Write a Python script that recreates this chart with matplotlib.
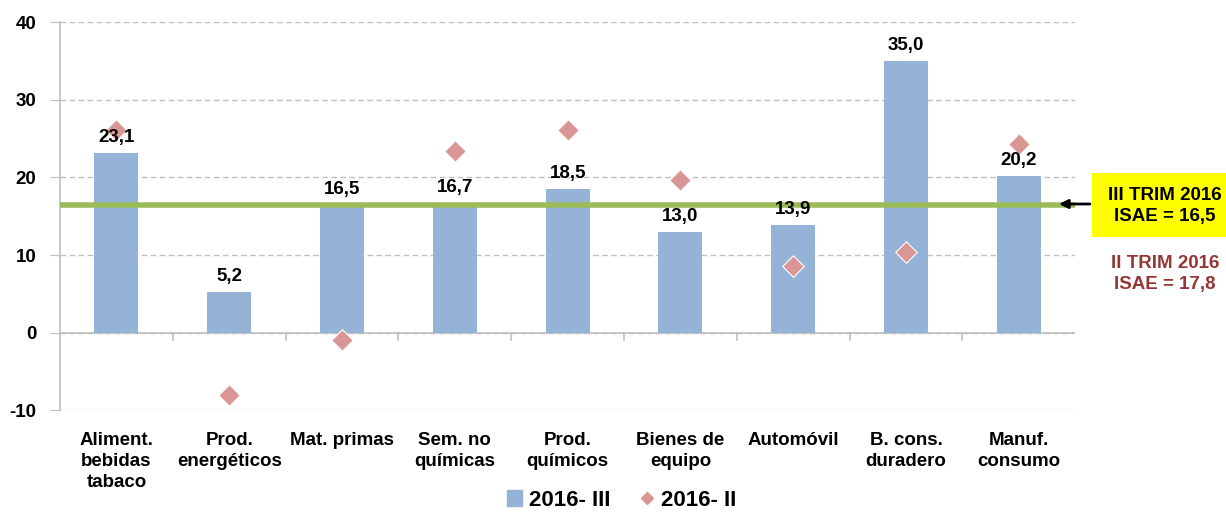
import matplotlib
matplotlib.use("Agg")
import matplotlib.pyplot as plt
import numpy as np
from matplotlib.lines import Line2D
from matplotlib.patches import Patch

categories = ["Aliment.\nbebidas\ntabaco", "Prod.\nenergéticos", "Mat. primas", "Sem. no\nquímicas",
              "Prod.\nquímicos", "Bienes de\nequipo", "Automóvil", "B. cons.\nduradero", "Manuf.\nconsumo"]
q3_2016 = [23.1, 5.2, 16.5, 16.7, 18.5, 13.0, 13.9, 35.0, 20.2]
q2_2016 = [26.1, -8.0, -1.0, 23.4, 26.1, 19.7, 8.6, 10.4, 24.3]
isae_q3 = 16.5
isae_q2 = 17.8
yticks = [-10, 0, 10, 20, 30, 40]

plt.rcParams['font.family'] = ['Liberation Sans', 'DejaVu Sans']

fig = plt.figure(figsize=(12.26, 5.16), dpi=100)
ax = fig.add_axes([0.049, 0.205, 0.828, 0.752])

x = np.arange(len(categories))
ax.bar(x, q3_2016, width=0.39, color="#95B3D7", zorder=2)
ax.scatter(x, q2_2016, marker="D", s=120, color="#D99694", edgecolors="white", linewidths=0.8, zorder=4)
ax.axhline(isae_q3, color="#9BBB59", lw=4, zorder=3)
ax.axhline(0, color="#BFBFBF", lw=1.2, zorder=1)

for xi, v in zip(x, q3_2016):
    ax.annotate(f"{v:.1f}".replace(".", ","), (xi, v), xytext=(0, 5), textcoords="offset points",
                ha="center", va="bottom", fontsize=13.5, fontweight="bold", zorder=5)

ax.set_xlim(-0.5, len(categories) - 0.5)
ax.set_ylim(-10, 40)
ax.set_yticks(yticks)
ax.set_yticklabels([str(t) for t in yticks], fontsize=13.5, fontweight="bold")
ax.yaxis.grid(True, ls=(0, (4, 2.5)), color="#BFBFBF", lw=1)
ax.set_axisbelow(True)
ax.tick_params(axis="y", length=7, color="#BFBFBF", pad=10)
for s in ["top", "right", "bottom"]:
    ax.spines[s].set_visible(False)
ax.spines["left"].set_color("#BFBFBF")
ax.spines["left"].set_linewidth(1.2)

ax.set_xticks(x)
ax.set_xticklabels([])
ax.tick_params(axis="x", length=0)
for xi, c in zip(x, categories):
    ax.text(xi, -12.8, c, ha="center", va="top", fontsize=13.5, fontweight="bold", linespacing=1.32)
# category separator ticks at zero line
for b in np.arange(0.5, len(categories) - 0.5, 1.0):
    ax.plot([b, b], [0, -1.0], color="#BFBFBF", lw=1.2, clip_on=False, zorder=1)

# Right annotations
fig.patches.append(plt.Rectangle((1092 / 1226, 1 - 237 / 516), 134 / 1226, 64 / 516,
                                 transform=fig.transFigure, fc="#FFFF00", ec="none"))
fig.text(1165 / 1226, 1 - 206 / 516, "III TRIM 2016\nISAE = 16,5", ha="center", va="center", fontsize=13.5,
         fontweight="bold", linespacing=1.38)
fig.text(1165 / 1226, 1 - 274 / 516, "II TRIM 2016\nISAE = 17,8", ha="center", va="center", fontsize=13.5,
         fontweight="bold", color="#953735", linespacing=1.3)
ax.annotate("", xy=(1059 / 1226, 1 - 204 / 516), xycoords="figure fraction",
            xytext=(1090 / 1226, 1 - 204 / 516), textcoords="figure fraction",
            arrowprops=dict(arrowstyle="-|>", color="black", lw=2, mutation_scale=13,
                            shrinkA=0, shrinkB=0))

handles = [Patch(color="#95B3D7"),
           Line2D([], [], marker="D", ls="none", color="#D99694", markersize=6.5)]
fig.legend(handles, ["2016- III", "2016- II"], loc="center", bbox_to_anchor=(0.507, 0.03), ncol=2,
           frameon=False, prop={"weight": "bold", "size": 16}, handlelength=0.7, handleheight=0.7,
           handletextpad=0.3, columnspacing=1.3)

fig.savefig("out.png", dpi=100)
